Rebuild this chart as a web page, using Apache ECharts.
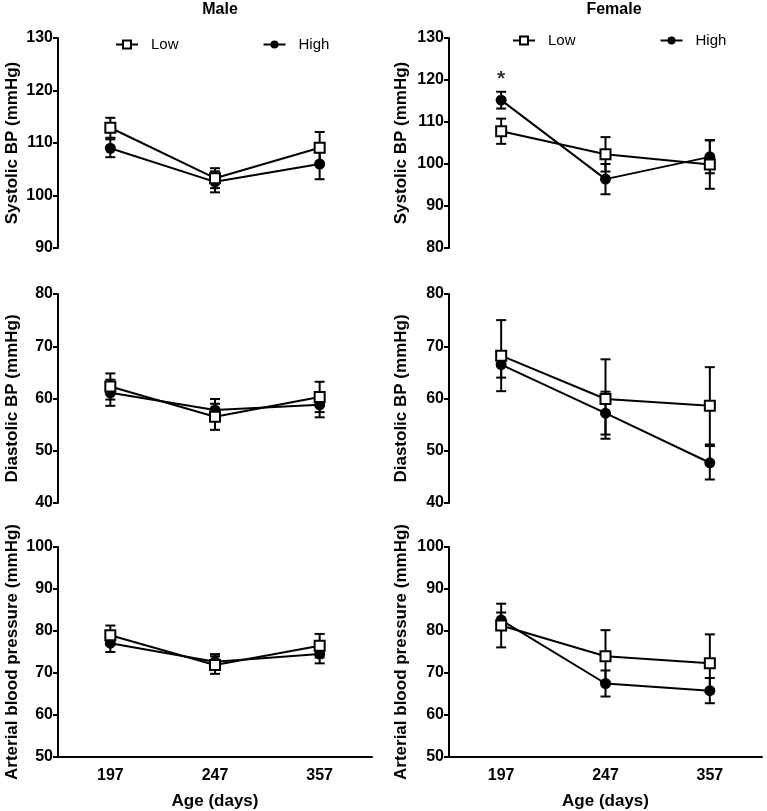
<!DOCTYPE html>
<html>
<head>
<meta charset="utf-8">
<script src="https://cdn.jsdelivr.net/npm/echarts@6/dist/echarts.min.js"></script>
<style>html,body{margin:0;padding:0;background:#fff}#c{width:767px;height:811px}</style>
</head>
<body>
<div id="c"></div>
<script>
// ---- data ----
const categories = ['197', '247', '357'];
const panelTitles = ['Male', 'Female'];
const yNames = ['Systolic BP (mmHg)', 'Diastolic BP (mmHg)', 'Arterial blood pressure (mmHg)'];
const xName = 'Age (days)';

const maleSysLow = [112.9, 103.3, 109.1];
const maleSysLowErr = [1.9, 1.9, 3.0];
const maleSysHigh = [109.0, 102.6, 106.0];
const maleSysHighErr = [1.7, 2.0, 2.9];

const femSysLow = [107.8, 102.3, 99.9];
const femSysLowErr = [3.0, 4.1, 5.8];
const femSysHigh = [115.2, 96.4, 101.7];
const femSysHighErr = [2.0, 3.6, 3.9];

const maleDiaLow = [62.3, 56.5, 60.3];
const maleDiaLowErr = [2.5, 2.5, 2.9];
const maleDiaHigh = [61.1, 57.8, 58.8];
const maleDiaHighErr = [2.5, 2.1, 2.4];

const femDiaLow = [68.2, 59.9, 58.6];
const femDiaLowErr = [6.8, 7.6, 7.4];
const femDiaHigh = [66.5, 57.2, 47.7];
const femDiaHighErr = [2.5, 4.1, 3.2];

const maleArtLow = [79.0, 71.9, 76.5];
const maleArtLowErr = [2.3, 2.1, 2.8];
const maleArtHigh = [77.1, 72.7, 74.5];
const maleArtHighErr = [2.1, 1.8, 2.2];

const femArtLow = [81.3, 74.0, 72.3];
const femArtLowErr = [5.2, 6.2, 6.9];
const femArtHigh = [82.6, 67.5, 65.8];
const femArtHighErr = [1.8, 3.1, 3.0];

// significance marker: female systolic, day 197
const sigCategory = '197';
const sigValue = 120.2;
const sigText = '*';

const yRanges = [
  [[90, 130], [80, 130]],
  [[40, 80], [40, 80]],
  [[50, 100], [50, 100]]
];

const panels = [
  [[maleSysLow, maleSysLowErr, maleSysHigh, maleSysHighErr], [femSysLow, femSysLowErr, femSysHigh, femSysHighErr]],
  [[maleDiaLow, maleDiaLowErr, maleDiaHigh, maleDiaHighErr], [femDiaLow, femDiaLowErr, femDiaHigh, femDiaHighErr]],
  [[maleArtLow, maleArtLowErr, maleArtHigh, maleArtHighErr], [femArtLow, femArtLowErr, femArtHigh, femArtHighErr]]
];

// ---- layout ----
const colLeft = [58, 449];
const colWidth = [314, 313];
const rowTop = [38, 294, 547];
const rowHeight = [210, 209, 210];
const FONT = 'Liberation Sans, Arial, sans-serif';

const chart = echarts.init(document.getElementById('c'), null, {renderer: 'canvas'});

function errRender(params, api) {
  const x = api.value(0), y = api.value(1), e = api.value(2);
  const top = api.coord([x, y + e]);
  const bot = api.coord([x, y - e]);
  const hw = 5;
  const st = {stroke: '#000', lineWidth: 2};
  return {
    type: 'group',
    children: [
      {type: 'line', shape: {x1: top[0], y1: top[1], x2: bot[0], y2: bot[1]}, style: st},
      {type: 'line', shape: {x1: top[0] - hw, y1: top[1], x2: top[0] + hw, y2: top[1]}, style: st},
      {type: 'line', shape: {x1: bot[0] - hw, y1: bot[1], x2: bot[0] + hw, y2: bot[1]}, style: st}
    ]
  };
}

const grid = [], xAxis = [], yAxis = [], series = [];
let gi = 0;
for (let r = 0; r < 3; r++) {
  for (let c = 0; c < 2; c++) {
    grid.push({left: colLeft[c], top: rowTop[r], width: colWidth[c], height: rowHeight[r]});
    const bottomRow = r === 2;
    xAxis.push({
      type: 'category', gridIndex: gi, data: categories, boundaryGap: true,
      show: bottomRow,
      axisLine: {lineStyle: {color: '#000', width: 2}},
      axisTick: {show: false},
      axisLabel: {color: '#000', fontWeight: 'bold', fontSize: 16, fontFamily: FONT, margin: 11},
      name: bottomRow ? xName : '', nameLocation: 'middle', nameGap: 36,
      nameTextStyle: {color: '#000', fontWeight: 'bold', fontSize: 17, fontFamily: FONT}
    });
    yAxis.push({
      type: 'value', gridIndex: gi, min: yRanges[r][c][0], max: yRanges[r][c][1], interval: 10,
      splitLine: {show: false},
      axisLine: {show: true, lineStyle: {color: '#000', width: 2}},
      axisTick: {show: true, length: 5, lineStyle: {color: '#000', width: 2}},
      axisLabel: {color: '#000', fontWeight: 'bold', fontSize: 16, fontFamily: FONT, margin: 5},
      name: yNames[r], nameLocation: 'middle', nameRotate: 90, nameGap: c === 0 ? 37 : 39,
      nameTextStyle: {color: '#000', fontWeight: 'bold', fontSize: 17, fontFamily: FONT}
    });
    const [low, lowErr, high, highErr] = panels[r][c];
    series.push({
      type: 'custom', xAxisIndex: gi, yAxisIndex: gi, renderItem: errRender, z: 1,
      encode: {x: 0, y: 1}, silent: true,
      data: high.map((v, i) => [i, v, highErr[i]])
    });
    series.push({
      type: 'custom', xAxisIndex: gi, yAxisIndex: gi, renderItem: errRender, z: 1,
      encode: {x: 0, y: 1}, silent: true,
      data: low.map((v, i) => [i, v, lowErr[i]])
    });
    series.push({
      name: 'High', type: 'line', xAxisIndex: gi, yAxisIndex: gi, data: high, z: 3,
      symbol: 'circle', symbolSize: 11, showAllSymbol: true,
      lineStyle: {color: '#000', width: 2},
      itemStyle: {color: '#000', borderColor: '#000', borderWidth: 0},
      emphasis: {disabled: true}
    });
    series.push({
      name: 'Low', type: 'line', xAxisIndex: gi, yAxisIndex: gi, data: low, z: 4,
      symbol: 'rect', symbolSize: 10, showAllSymbol: true,
      lineStyle: {color: '#000', width: 2},
      itemStyle: {color: '#fff', borderColor: '#000', borderWidth: 2},
      emphasis: {disabled: true}
    });
    if (r === 0 && c === 1) {
      series.push({
        type: 'scatter', xAxisIndex: gi, yAxisIndex: gi, symbolSize: 0, silent: true,
        data: [[sigCategory, sigValue]],
        label: {show: true, position: 'inside', formatter: sigText, color: '#000',
          fontSize: 21, fontWeight: 'bold', fontFamily: FONT}
      });
    }
    gi++;
  }
}

const legendCommon = {
  data: ['Low', 'High'], orient: 'horizontal', itemWidth: 22, itemHeight: 10, itemGap: 84,
  textStyle: {color: '#000', fontSize: 15, fontFamily: FONT, padding: [0, 0, 0, 8]}, selectedMode: false
};

chart.setOption({
  animation: false,
  title: [
    {text: panelTitles[0], left: 215, top: -3, textAlign: 'center',
      textStyle: {fontSize: 16, fontWeight: 'bold', color: '#000', fontFamily: FONT}},
    {text: panelTitles[1], left: 609, top: -3, textAlign: 'center',
      textStyle: {fontSize: 16, fontWeight: 'bold', color: '#000', fontFamily: FONT}}
  ],
  legend: [
    Object.assign({left: 110, top: 32}, legendCommon),
    Object.assign({left: 507, top: 28}, legendCommon)
  ],
  grid, xAxis, yAxis, series
});
</script>
</body>
</html>
